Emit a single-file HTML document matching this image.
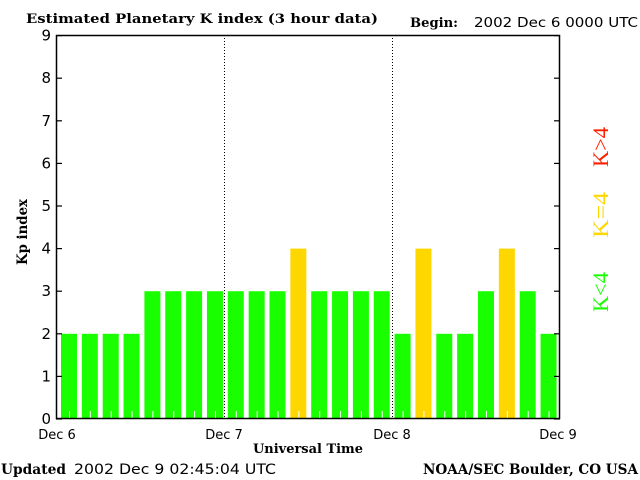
<!DOCTYPE html>
<html><head><style>
html,body{margin:0;padding:0;background:#fff;}
svg{display:block;}
.s{font-family:"DejaVu Serif","Liberation Serif",serif;font-weight:bold;}
.n{font-family:"DejaVu Sans","Liberation Sans",sans-serif;}
</style></head><body>
<svg width="640" height="480" xmlns="http://www.w3.org/2000/svg">
<rect width="640" height="480" fill="#fff"/>
<text x="26" y="23" class="s" font-size="13" textLength="352" lengthAdjust="spacingAndGlyphs">Estimated Planetary K index (3 hour data)</text>
<text x="410" y="27" class="s" font-size="13" textLength="48" lengthAdjust="spacingAndGlyphs">Begin:</text>
<text x="474" y="27" class="n" font-size="13" textLength="164" lengthAdjust="spacingAndGlyphs">2002 Dec 6 0000 UTC</text>
<g id="bars"></g>
<line x1="224.5" y1="35" x2="224.5" y2="419" stroke="#000" stroke-dasharray="1,2"/>
<line x1="392.5" y1="35" x2="392.5" y2="419" stroke="#000" stroke-dasharray="1,2"/>
<rect x="56.5" y="35.5" width="503" height="383" fill="none" stroke="#000" stroke-width="1.5"/>
<g id="ticks" stroke="#000" stroke-width="1.2"></g>
<g class="n" font-size="15" text-anchor="end" id="ylab"></g>
<text transform="translate(27,265) rotate(-90)" class="s" font-size="14" textLength="66" lengthAdjust="spacingAndGlyphs">Kp index</text>
<g class="n" font-size="13" text-anchor="middle">
<text x="57" y="439">Dec 6</text>
<text x="224" y="439">Dec 7</text>
<text x="392" y="439">Dec 8</text>
<text x="558" y="439">Dec 9</text>
</g>
<text x="253" y="453" class="s" font-size="13" textLength="110" lengthAdjust="spacingAndGlyphs">Universal Time</text>
<text x="1" y="474" class="s" font-size="14" textLength="65" lengthAdjust="spacingAndGlyphs">Updated</text>
<text x="74" y="474" class="n" font-size="14" textLength="202" lengthAdjust="spacingAndGlyphs">2002 Dec  9 02:45:04 UTC</text>
<text x="423" y="474" class="s" font-size="14" textLength="215" lengthAdjust="spacingAndGlyphs">NOAA/SEC Boulder, CO USA</text>
<g font-family="Liberation Serif,serif" font-size="22">
<text transform="translate(608,312) rotate(-90)" fill="#1aff00" textLength="40" lengthAdjust="spacingAndGlyphs">K&lt;4</text>
<text transform="translate(608,238) rotate(-90)" fill="#ffd700" textLength="46" lengthAdjust="spacingAndGlyphs">K=4</text>
<text transform="translate(608,167) rotate(-90)" fill="#ff2000" textLength="40" lengthAdjust="spacingAndGlyphs">K&gt;4</text>
</g>
</svg>
<script>
var v=[2,2,2,2,3,3,3,3,3,3,3,4,3,3,3,3,2,4,2,2,3,4,3,2];
var ns="http://www.w3.org/2000/svg",g=document.getElementById('bars');
v.forEach(function(k,i){var x=61+i*20.85,h=k*42.6;
var r=document.createElementNS(ns,'rect');r.setAttribute('x',x);r.setAttribute('y',419-h);r.setAttribute('width',16);r.setAttribute('height',h);r.setAttribute('fill',k==4?'#ffd700':'#1aff00');g.appendChild(r);
var l=document.createElementNS(ns,'line');l.setAttribute('x1',x+8.5);l.setAttribute('x2',x+8.5);l.setAttribute('y1',411);l.setAttribute('y2',419);l.setAttribute('stroke','#fff');g.appendChild(l);});
var t=document.getElementById('ticks'),yl=document.getElementById('ylab');
for(var k=0;k<=9;k++){var y=419-k*42.6;
[[56,62],[554,560]].forEach(function(p){var l=document.createElementNS(ns,'line');l.setAttribute('x1',p[0]);l.setAttribute('x2',p[1]);l.setAttribute('y1',y);l.setAttribute('y2',y);t.appendChild(l);});
var tx=document.createElementNS(ns,'text');tx.setAttribute('x',51);tx.setAttribute('y',y+5);tx.textContent=k;yl.appendChild(tx);}
</script>
</body></html>
